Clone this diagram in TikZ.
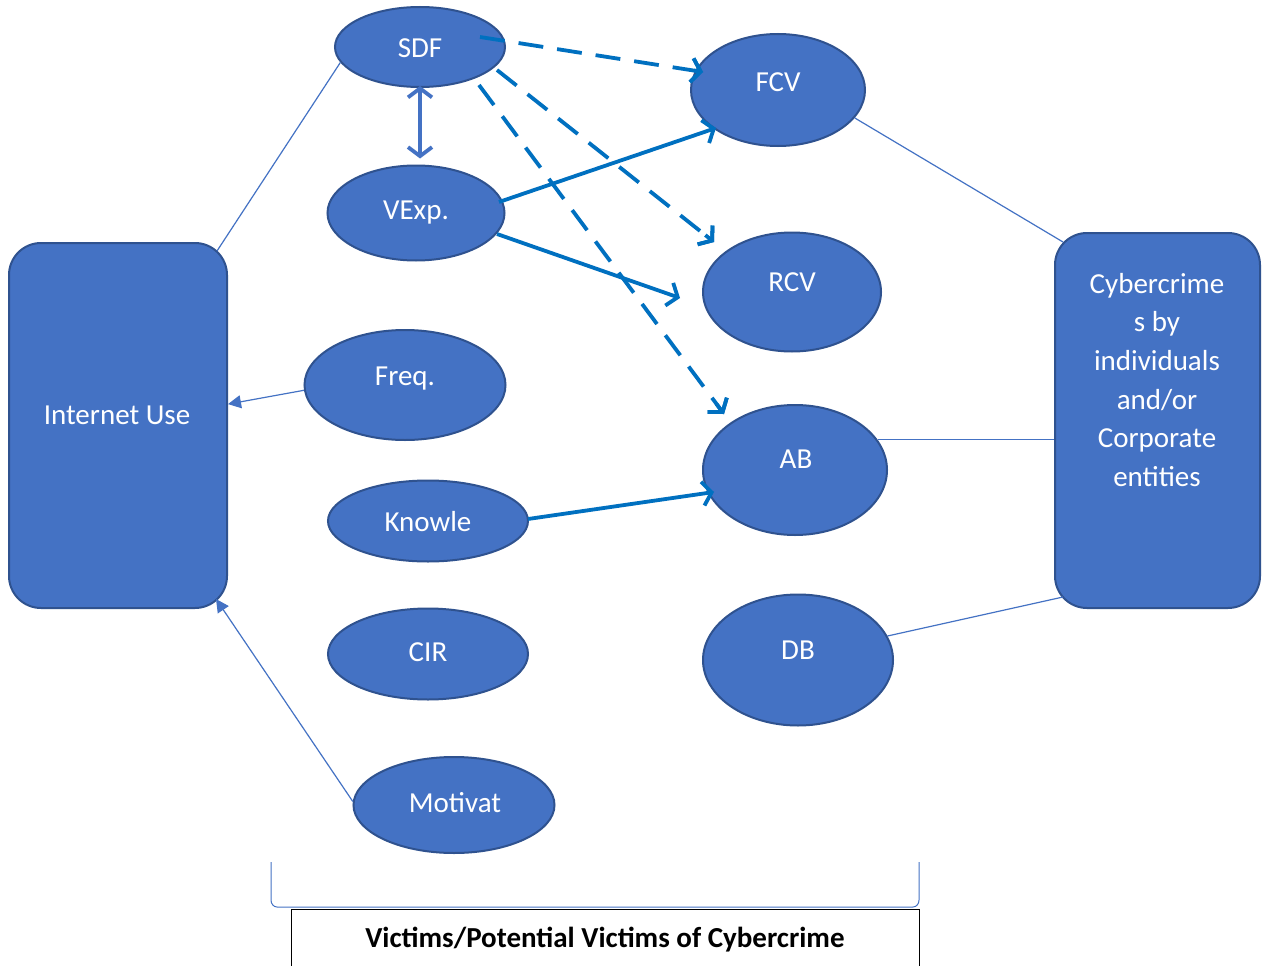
\documentclass[tikz,border=0pt]{standalone}
\usepackage{fontspec}
\setmainfont{Carlito}
\usetikzlibrary{shapes.geometric,arrows.meta,calc}
\definecolor{fillb}{HTML}{4472C4}
\definecolor{edgeb}{HTML}{2F528F}
\definecolor{arrb}{HTML}{0070C0}
\begin{document}
\begin{tikzpicture}[x=1pt,y=-1pt,
  ell/.style={ellipse, fill=fillb, draw=edgeb, line width=2pt, inner sep=0pt},
  rbox/.style={rectangle, rounded corners=32pt, fill=fillb, draw=edgeb, line width=2pt, inner sep=0pt},
  lbl/.style={text=white, font=\fontsize{29}{38.6}\selectfont, inner sep=0pt, align=center},
  thinln/.style={draw=fillb, line width=1.2pt},
  thinarr/.style={thinln, -{Triangle[length=13pt,width=13pt]}},
  bigarr/.style={draw=arrb, line width=3.8pt, -{Straight Barb[length=9pt,width=24pt]}},
  dsharr/.style={bigarr, dash pattern=on 25pt off 14pt}]
\path[use as bounding box] (0,0) rectangle (1264,966);
\clip (0,0) rectangle (1264,966);
\fill[white] (0,0) rectangle (1264,966);

% boxes
\node[rbox, minimum width=218pt, minimum height=365pt] (inet) at (118,425.5) {};
\node[rbox, minimum width=205pt, minimum height=375pt] (cyber) at (1157.5,420.5) {};

% ellipses
\node[ell, minimum width=170pt, minimum height=80pt] (sdf) at (420,47) {};
\node[ell, minimum width=174pt, minimum height=112pt] (fcv) at (778,90) {};
\node[ell, minimum width=177pt, minimum height=95pt] (vexp) at (416,213) {};
\node[ell, minimum width=178pt, minimum height=119pt] (rcv) at (792,292) {};
\node[ell, minimum width=201pt, minimum height=110pt] (freq) at (405,385) {};
\node[ell, minimum width=184pt, minimum height=130pt] (ab) at (795,470) {};
\node[ell, minimum width=200pt, minimum height=81pt] (know) at (428,521) {};
\node[ell, minimum width=200pt, minimum height=91pt] (cir) at (428,654) {};
\node[ell, minimum width=190pt, minimum height=131pt] (db) at (798,660) {};
\node[ell, minimum width=201pt, minimum height=96pt] (mot) at (454,805) {};

% thin connectors
\draw[thinln] ($(inet.north east)+(-11,9)$) -- (sdf.191);
\draw[thinarr] (freq.183) -- (inet.11);
\draw[thinarr] (mot.178) -- ($(inet.south east)+(-12,-10)$);
\draw[thinln] (fcv.-20) -- ($(cyber.north west)+(9,10)$);
\draw[thinln] (ab.20.6) -- (ab.20.6 -| cyber.west);
\draw[thinln] (db.15) -- ($(cyber.south west)+(9,-12)$);

% anchor points of thick arrows
\coordinate (s1) at ($(sdf.center)+(60,-10)$);
\coordinate (e1) at ($(fcv.center)+(-75,-18)$);
\coordinate (s2) at ($(sdf.center)+(77,23)$);
\coordinate (e2) at ($(rcv.center)+(-78,-50)$);
\coordinate (s3) at ($(sdf.center)+(59,38)$);
\coordinate (e3) at ($(ab.center)+(-71,-56)$);

% thick arrows
\draw[bigarr, draw=fillb, {Straight Barb[length=9pt,width=24pt]}-{Straight Barb[length=9pt,width=24pt]}]
  ($(sdf.south)+(0,-2)$) -- ($(sdf.south |- vexp.north)+(0,-6)$);
\draw[dsharr] (s1) -- (e1);
\draw[dsharr] (s2) -- (e2);
\draw[dsharr] (s3) -- (e3);
\draw[bigarr] ($(s1)!0.96!(e1)$) -- (e1);
\draw[bigarr] ($(s2)!0.96!(e2)$) -- (e2);
\draw[bigarr] ($(s3)!0.97!(e3)$) -- (e3);
\draw[bigarr] ($(vexp.center)+(83,-11)$) -- ($(fcv.center)+(-62,38)$);
\draw[bigarr] ($(vexp.center)+(81,21)$) -- ($(rcv.center)+(-112,6)$);
\draw[bigarr] ($(know.center)+(100,-2)$) -- ($(ab.center)+(-81,22)$);

% labels
\node[lbl] (tsdf) at (420,48) {SDF};
\node[lbl] (tfcv) at (778,82) {FCV};
\node[lbl] (tvexp) at (416,213) {VExp.};
\node[lbl] (trcv) at (792,282) {RCV};
\node[lbl] (tfreq) at (405,379) {Freq.};
\node[lbl] (tab) at (796,459) {AB};
\node[lbl] (tknow) at (428,522) {Knowle};
\node[lbl] (tcir) at (428,652) {CIR};
\node[lbl] (tdb) at (798,650) {DB};
\node[lbl] (tmot) at (455,803) {Motivat};
\node[lbl] (tinet) at (117,415) {Internet Use};
\node[lbl, anchor=north] (tcyber) at (1157,273) {Cybercrime\\s by\\individuals\\and/or\\Corporate\\entities};

% brace and bottom box
\draw[thinln, line width=1pt] (271,862) -- (271,900) to[out=-90,in=180] (277,907) -- (913,907) to[out=0,in=-90] (919,900) -- (919,862);
\node[draw=black, line width=1pt, anchor=north west, minimum width=628pt, minimum height=90pt, inner sep=0pt] (victims) at (291,909) {};
\node[font=\fontsize{29}{34}\selectfont\bfseries, inner sep=0pt] (tvict) at (605,940) {Victims/Potential Victims of Cybercrime};
\end{tikzpicture}
\end{document}
